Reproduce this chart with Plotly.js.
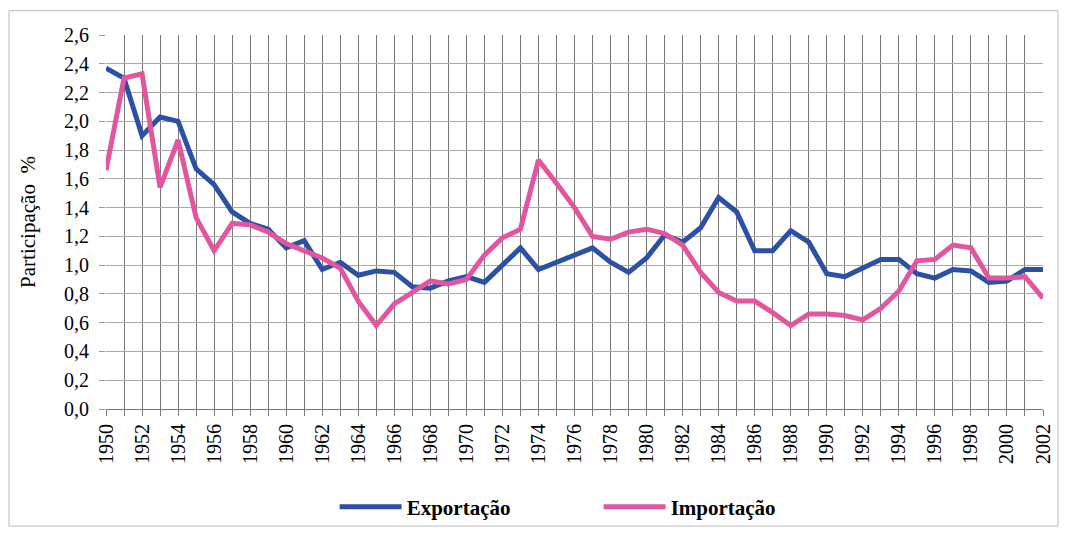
<!DOCTYPE html>
<html><head><meta charset="utf-8">
<script src="https://cdn.plot.ly/plotly-3.0.1.min.js"></script>
<style>body{margin:0;background:#fff}#c{width:1065px;height:540px}</style>
</head><body><div id="c"></div>
<script>
const years = [];
for (let y = 1950; y <= 2002; y++) years.push(y);
const exportacao = [2.37,2.30,1.90,2.03,2.00,1.67,1.56,1.37,1.29,1.25,1.12,1.17,0.97,1.02,0.93,
  0.96,0.95,0.85,0.84,0.89,0.92,0.88,1.00,1.12,0.97,1.02,1.07,1.12,1.02,0.95,1.05,1.21,
  1.16,1.26,1.47,1.37,1.10,1.10,1.24,1.16,0.94,0.92,0.98,1.04,1.04,0.94,0.91,0.97,0.96,0.88,0.89,0.97,0.97];
const importacao = [1.66,2.30,2.33,1.54,1.87,1.33,1.10,1.29,1.28,1.23,1.15,1.10,1.05,0.98,0.75,
  0.58,0.73,0.81,0.89,0.87,0.90,1.07,1.19,1.25,1.73,1.57,1.40,1.20,1.18,1.23,1.25,1.22,
  1.14,0.95,0.81,0.75,0.75,0.67,0.58,0.66,0.66,0.65,0.62,0.70,0.82,1.03,1.04,1.14,1.12,0.91,0.91,0.92,0.77];
const seriesNames = ['Exportação', 'Importação'];
const yTitle = 'Participação  %';

const font = 'Liberation Serif';
const traces = [
  {x: years, y: exportacao, name: seriesNames[0], mode: 'lines', line: {color: '#2c50a3', width: 5}},
  {x: years, y: importacao, name: seriesNames[1], mode: 'lines', line: {color: '#e2559f', width: 5}}
];
const layout = {
  width: 1065, height: 540,
  margin: {l: 106, r: 22, t: 35, b: 122},
  paper_bgcolor: '#fff', plot_bgcolor: '#fff',
  separators: ',.',
  font: {family: font, color: '#000', size: 20},
  showlegend: true,
  legend: {orientation: 'h', x: 0.244, xanchor: 'left', y: -0.262, yanchor: 'middle',
    bgcolor: 'rgba(0,0,0,0)',
    font: {family: font, size: 21, weight: 'bold'}, itemwidth: 62, tracegroupgap: 0,
    entrywidth: 187},
  xaxis: {range: [1950, 2002], tickmode: 'linear', tick0: 1950, dtick: 2,
    tickangle: -90, showgrid: true, gridcolor: '#777', gridwidth: 1,
    minor: {dtick: 1, showgrid: true, gridcolor: '#777', gridwidth: 1, ticks: 'outside', ticklen: 6, tickcolor: '#777'},
    ticks: 'outside', ticklen: 6, tickcolor: '#777',
    showline: true, linecolor: '#777', linewidth: 1, zeroline: false,
    tickfont: {family: font, size: 20}},
  yaxis: {range: [0, 2.6], tickmode: 'linear', tick0: 0, dtick: 0.2, tickformat: '.1f',
    showgrid: true, gridcolor: '#aaa', gridwidth: 1, zeroline: false,
    ticks: 'outside', ticklen: 6, tickcolor: '#999', ticklabelstandoff: 6,
    showline: false,
    title: {text: yTitle, font: {family: font, size: 21}, standoff: 22},
    tickfont: {family: font, size: 20}},
  shapes: [{type: 'rect', xref: 'paper', yref: 'paper', x0: -0.1035, x1: 1.016, y0: -0.313, y1: 1.065,
    line: {color: '#bbb', width: 1}, fillcolor: 'rgba(0,0,0,0)', layer: 'below'}]
};
Plotly.newPlot('c', traces, layout, {displayModeBar: false, staticPlot: true});
</script></body></html>
